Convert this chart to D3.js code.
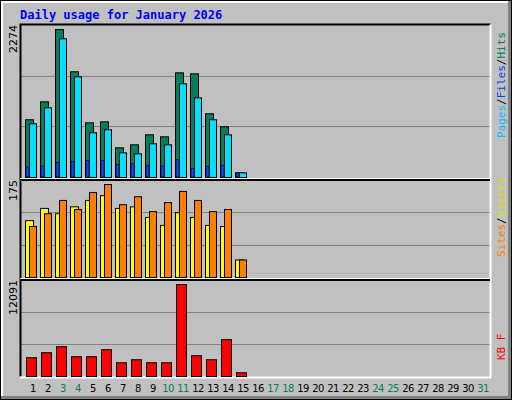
<!DOCTYPE html>
<html><head><meta charset="utf-8">
<script src="https://cdn.jsdelivr.net/npm/d3@7"></script>
<style>body{margin:0;background:#fff}</style>
</head><body>
<script>
// data
var days = d3.range(1, 32);
var weekend = [3, 4, 10, 11, 17, 18, 24, 25, 31];
var hits  = [887, 1163, 2274, 1624, 840, 855, 456, 502, 656, 625, 1608, 1593, 979, 779, 72];
var files = [825, 1071, 2131, 1547, 687, 733, 379, 364, 518, 502, 1440, 1224, 887, 656, 72];
var pages = [154, 169, 226, 241, 257, 257, 195, 210, 180, 169, 272, 134, 165, 180, 61];
var sites  = [107, 130, 120, 133, 145, 154, 130, 133, 113, 98, 122, 113, 98, 96, 33];
var visits = [96, 120, 145, 128, 160, 175, 137, 152, 124, 141, 162, 145, 124, 128, 33];
var kbytes = [2466, 3125, 3916, 2597, 2597, 3520, 1806, 2202, 1806, 1806, 12091, 2729, 2202, 4839, 488];

var W = 512, H = 400;
var svg = d3.select("body").append("svg").attr("width", W).attr("height", H);

// frame
svg.append("rect").attr("x", 0).attr("y", 0).attr("width", W).attr("height", H).attr("fill", "#000");
svg.append("rect").attr("x", 1).attr("y", 1).attr("width", W - 2).attr("height", H - 2).attr("fill", "#808080");
svg.append("rect").attr("x", 1).attr("y", 1).attr("width", W - 5).attr("height", H - 5).attr("fill", "#fff");
svg.append("rect").attr("x", 3).attr("y", 3).attr("width", W - 7).attr("height", H - 7).attr("fill", "#c0c0c0");

svg.append("text").attr("x", 20).attr("y", 19)
  .text("Daily usage for January 2026")
  .style("font-family", "DejaVu Sans Mono").style("font-weight", "bold")
  .style("font-size", "12px").attr("fill", "#0000ff");

var x = d3.scaleLinear().domain([1, 31]).range([31, 481]);
var L = 20, R = 490;

var panels = [
  {top: 25, bottom: 177, max: 2274, vtop: 29},
  {top: 180, bottom: 277, max: 175, vtop: 184},
  {top: 280, bottom: 376, max: 12091, vtop: 284}
];
panels.forEach(function(p) {
  p.y = d3.scaleLinear().domain([0, p.max]).range([p.bottom, p.vtop]);
  var g = svg.append("g");
  [1, 2].forEach(function(k) {
    var gy = Math.round(p.bottom - (p.bottom - p.top) * k / 3) + 0.5;
    g.append("line").attr("x1", L).attr("x2", R).attr("y1", gy).attr("y2", gy).attr("stroke", "#808080");
  });
  g.append("text").attr("transform", "translate(17," + p.top + ") rotate(-90)")
    .attr("text-anchor", "end").text(p.max)
    .style("font-family", "DejaVu Sans").style("font-size", "11px").attr("fill", "#000");
});

// panel borders
svg.append("path").attr("d", "M" + (L + 0.5) + ",376.5V24.5H" + (R + 0.5)).attr("fill", "none").attr("stroke", "#000").attr("stroke-width", 2);
svg.append("path").attr("d", "M" + (R + 0.5) + ",24.5V377.5H" + L).attr("fill", "none").attr("stroke", "#fff").attr("stroke-width", 2);
[178.5, 278.5].forEach(function(yy) {
  svg.append("line").attr("x1", L).attr("x2", R).attr("y1", yy).attr("y2", yy).attr("stroke", "#fff").attr("stroke-width", 1);
  svg.append("line").attr("x1", L).attr("x2", R).attr("y1", yy + 1.5).attr("y2", yy + 1.5).attr("stroke", "#000").attr("stroke-width", 2);
});

function bars(data, p, dx, w, color) {
  svg.append("g").selectAll("rect").data(data).join("rect")
    .attr("x", function(d, i) { return x(i + 1) + dx + 0.5; })
    .attr("y", function(d) { return p.y(d) + 0.5; })
    .attr("width", w)
    .attr("height", function(d) { return p.bottom - p.y(d); })
    .attr("fill", color).attr("stroke", "#000").attr("stroke-width", 1);
}
bars(hits, panels[0], -6, 8, "#008060");
bars(files, panels[0], -2, 7, "#00e0ff");
svg.append("g").selectAll("rect").data(pages).join("rect")
  .attr("x", function(d, i) { return x(i + 1) - 5; })
  .attr("y", function(d) { return panels[0].y(d); })
  .attr("width", 3)
  .attr("height", function(d) { return panels[0].bottom - panels[0].y(d); })
  .attr("fill", "#0050ff").attr("stroke", "#000").attr("stroke-width", 0.6);
bars(sites, panels[1], -6, 8, "#ffff00");
bars(visits, panels[1], -2, 7, "#ff8000");
bars(kbytes, panels[2], -5, 10, "#ff0000");

svg.append("g").selectAll("text").data(days).join("text")
  .attr("x", function(d) { return x(d) + 2; }).attr("y", 392)
  .attr("text-anchor", "middle").text(function(d) { return d; })
  .style("font-family", "DejaVu Sans").style("font-size", "10px")
  .style("letter-spacing", "-0.5px")
  .attr("fill", function(d) { return weekend.indexOf(d) >= 0 ? "#00805c" : "#000"; });

// right-hand legends
function legend(parts, yEnd) {
  var t = svg.append("text").attr("transform", "translate(505," + yEnd + ") rotate(-90)")
    .style("font-family", "DejaVu Sans Mono").style("font-size", "11px");
  parts.forEach(function(pt) { t.append("tspan").attr("fill", pt[1]).text(pt[0]); });
}
legend([["Pages", "#00c0ff"], ["/", "#000"], ["Files", "#0040ff"], ["/", "#000"], ["Hits", "#008060"]], 138);
legend([["Sites", "#ff8000"], ["/", "#000"], ["Visits", "#e0e000"]], 257);
legend([["KB F", "#ff0000"]], 360);
</script>
</body></html>
